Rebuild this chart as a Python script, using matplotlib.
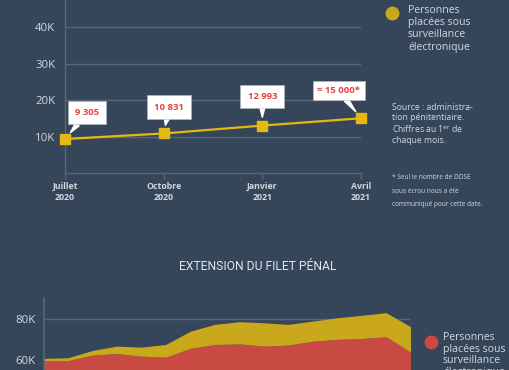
#!/usr/bin/env python3
"""Surveillance électronique : courbe DDSE + extension du filet pénal (aires empilées)."""

import matplotlib
matplotlib.use("Agg")
import matplotlib.pyplot as plt
from matplotlib.lines import Line2D

BG = "#35465a"
GRID = "#56677a"
TXT = "#d3d7dc"
YELLOW = "#e5b912"
YELLOW_AREA = "#c9a81c"
RED_AREA = "#c84a42"
RED_TXT = "#e8413a"

# top chart : DDSE au 1er de chaque mois
months_top = ["Juillet\n2020", "Octobre\n2020", "Janvier\n2021", "Avril\n2021"]
ddse = [9305, 10831, 12993, 15000]
ddse_labels = ["9 305", "10 831", "12 993", "≈ 15 000*"]
label_offsets = [(16, 19), (4, 19), (0, 21), (-16, 20)]  # points
label_pads = [0.75, 0.75, 0.75, 0.5]

# bottom chart : aires empilées (milliers)
detenus = [59.5, 59.5, 62.1, 62.9, 61.6, 61.1, 65.4, 67.3, 67.6, 66.5, 67.0,
           68.9, 69.8, 70.2, 71.1, 63.6]
surveillance = [1.0, 1.3, 2.3, 3.6, 4.4, 6.2, 8.4, 9.8, 10.8, 11.4, 10.1,
                9.8, 10.5, 11.3, 11.7, 12.4]

plt.rcParams.update({
    "font.family": ["Open Sans", "DejaVu Sans"],
    "figure.facecolor": BG,
    "axes.facecolor": BG,
    "savefig.facecolor": BG,
})

fig = plt.figure(figsize=(5.1, 3.7), dpi=100)
W, H = 510, 370


def px_axes(left, top, right, bottom):
    return fig.add_axes([left / W, 1 - bottom / H, (right - left) / W, (bottom - top) / H])


# ---------------- top chart
ax = px_axes(65, 0, 361, 173)
x = list(range(len(ddse)))
ax.plot(x, ddse, color=YELLOW, linewidth=1.6, marker="s", markersize=6.5,
        clip_on=False, zorder=3)
ax.set_xlim(0, 3)
ax.set_ylim(0, 47400)
ax.set_yticks([10000, 20000, 30000, 40000])
ax.set_yticklabels(["10K", "20K", "30K", "40K"])
ax.set_xticks(x)
ax.set_xticklabels(months_top, fontweight="bold", fontsize=6.3, linespacing=1.25)
ax.tick_params(axis="y", length=0, pad=7, labelsize=8.2, labelcolor=TXT)
ax.tick_params(axis="x", length=4, width=1, color=GRID, pad=2.5, labelcolor=TXT)
ax.grid(axis="y", color=GRID, linewidth=1)
ax.set_axisbelow(True)
for side in ["top", "right"]:
    ax.spines[side].set_visible(False)
for side in ["left", "bottom"]:
    ax.spines[side].set_color(GRID)
    ax.spines[side].set_linewidth(1)

for xi, v, lab, off, pad in zip(x, ddse, ddse_labels, label_offsets, label_pads):
    ax.annotate(lab, xy=(xi, v), xytext=off, textcoords="offset points",
                ha="center", va="center", color=RED_TXT, fontsize=6.8,
                fontweight="bold",
                bbox=dict(boxstyle=f"square,pad={pad}", fc="white", ec="#bbbbbb", lw=0.4),
                arrowprops=dict(arrowstyle="wedge,tail_width=0.5", fc="white",
                                ec="white", shrinkA=0, shrinkB=6),
                zorder=5)

fig.add_artist(Line2D([392 / W], [1 - 13 / H], marker="o", markersize=9,
                      color=YELLOW_AREA, transform=fig.transFigure))
fig.text(408 / W, 1 - 5 / H, "Personnes\nplacées sous\nsurveillance\nélectronique",
         color=TXT, fontsize=7.6, va="top", ha="left", linespacing=1.15)
fig.text(392 / W, 1 - 103 / H,
         "Source : administra-\ntion pénitentiaire.\nChiffres au 1$^{\\rm er}$ de\nchaque mois.",
         color=TXT, fontsize=6.2, va="top", ha="left", linespacing=1.15)
fig.text(392 / W, 1 - 174 / H,
         "* Seul le nombre de DDSE\nsous écrou nous a été\ncommuniqué pour cette date.",
         color=TXT, fontsize=4.7, va="top", ha="left", linespacing=2.3)

# ---------------- bottom chart
fig.text(258 / W, 1 - 267 / H, "EXTENSION DU FILET PÉNAL", color="#e2e5e9",
         fontsize=8.7, ha="center", va="center", family=["Roboto", "DejaVu Sans"])

ax2 = px_axes(44, 298, 411, 370)
xb = list(range(len(detenus)))
ax2.stackplot(xb, detenus, surveillance, colors=[RED_AREA, YELLOW_AREA],
              linewidth=0, zorder=2)
ax2.set_xlim(0, len(detenus) - 1)
ax2.set_ylim(55.1, 90.2)
ax2.set_yticks([60, 80])
ax2.set_yticklabels(["60K", "80K"])
ax2.set_xticks([])
ax2.tick_params(axis="y", length=0, pad=6, labelsize=8.2, labelcolor=TXT)
ax2.grid(axis="y", color=GRID, linewidth=1, zorder=1)
ax2.set_axisbelow(True)
for side in ["top", "right", "bottom"]:
    ax2.spines[side].set_visible(False)
ax2.spines["left"].set_color(GRID)
ax2.spines["left"].set_linewidth(1.2)

fig.add_artist(Line2D([431 / W], [1 - 342 / H], marker="o", markersize=9,
                      color=RED_AREA, transform=fig.transFigure))
fig.text(443 / W, 1 - 332 / H, "Personnes\nplacées sous\nsurveillance\nélectronique",
         color=TXT, fontsize=7.6, va="top", ha="left", linespacing=1.08)

fig.savefig("out.png", dpi=100)
plt.close(fig)
